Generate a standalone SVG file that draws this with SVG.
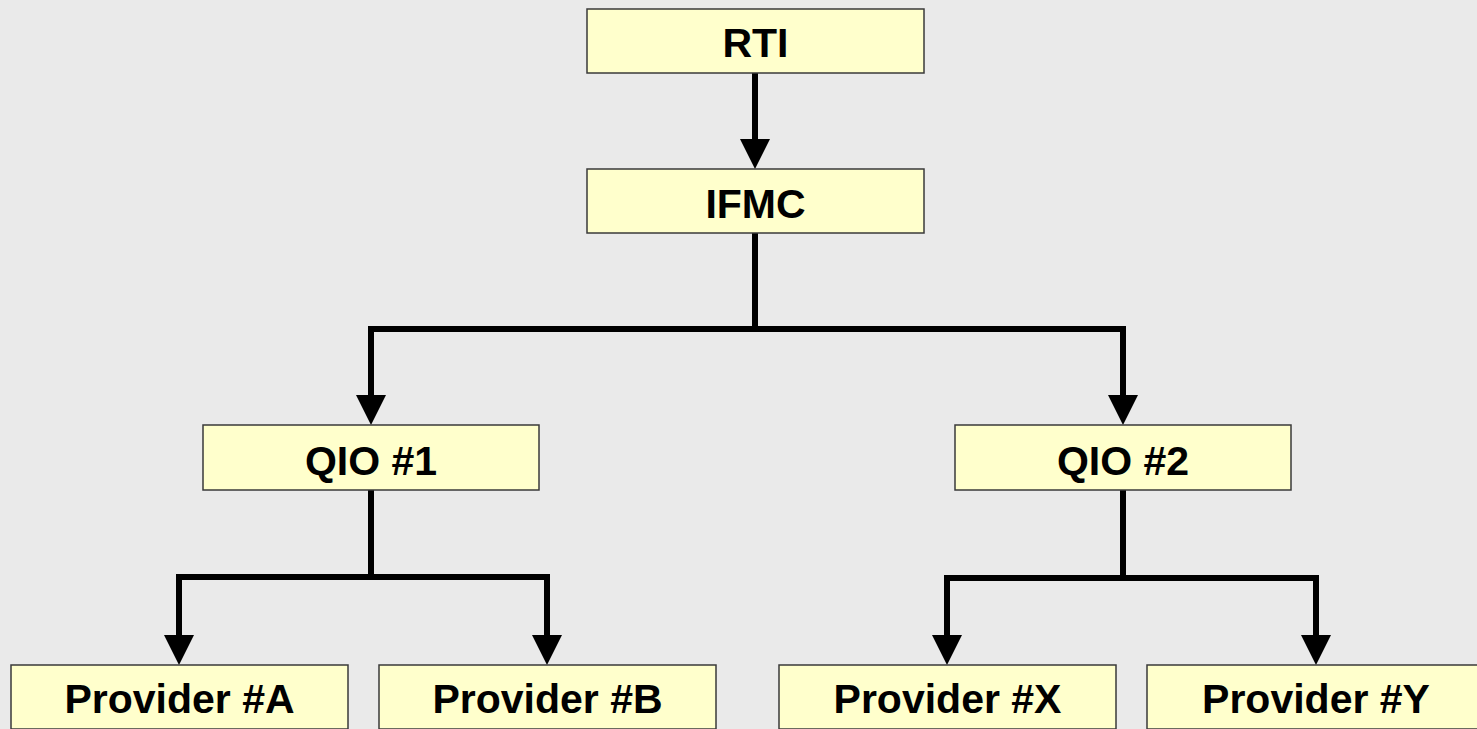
<svg xmlns="http://www.w3.org/2000/svg" width="1477" height="729" viewBox="0 0 1477 729">
  <style>
    .box { fill: #FFFFCC; stroke: #3a3a3a; stroke-width: 1.5; }
    .lbl { font-family: "Liberation Sans", Arial, sans-serif; font-weight: bold; font-size: 41px; fill: #000; text-anchor: middle; }
    .conn { fill: none; stroke: #000; stroke-width: 6; stroke-linejoin: miter; stroke-linecap: butt; }
  </style>
  <defs>
    <marker id="arrow" viewBox="0 0 30 30" refX="0" refY="15" markerWidth="30" markerHeight="30" markerUnits="userSpaceOnUse" orient="auto">
      <path d="M0,0 L30,15 L0,30 Z" fill="#000"/>
    </marker>
  </defs>
  <rect x="0" y="0" width="1477" height="729" fill="#EAEAEA"/>

  <g id="connectors">
    <path class="conn" d="M755,73 V139" marker-end="url(#arrow)"/>
    <path class="conn" d="M755,233 V329 H371 V395" marker-end="url(#arrow)"/>
    <path class="conn" d="M755,329 H1123 V395" marker-end="url(#arrow)"/>
    <path class="conn" d="M371,490 V577 H179 V635" marker-end="url(#arrow)"/>
    <path class="conn" d="M371,577 H547 V635" marker-end="url(#arrow)"/>
    <path class="conn" d="M1123,490 V578 H947 V635" marker-end="url(#arrow)"/>
    <path class="conn" d="M1123,578 H1316 V635" marker-end="url(#arrow)"/>
  </g>

  <g id="rti">
    <rect class="box" x="587" y="9" width="337" height="64"/>
    <text class="lbl" x="755.5" y="57">RTI</text>
  </g>
  <g id="ifmc">
    <rect class="box" x="587" y="169" width="337" height="64"/>
    <text class="lbl" x="755.5" y="218">IFMC</text>
  </g>
  <g id="qio1">
    <rect class="box" x="203" y="425" width="336" height="65"/>
    <text class="lbl" x="371" y="475">QIO #1</text>
  </g>
  <g id="qio2">
    <rect class="box" x="955" y="425" width="336" height="65"/>
    <text class="lbl" x="1123" y="475">QIO #2</text>
  </g>
  <g id="providerA">
    <rect class="box" x="11" y="665" width="337" height="64"/>
    <text class="lbl" x="179.5" y="713">Provider #A</text>
  </g>
  <g id="providerB">
    <rect class="box" x="379" y="665" width="337" height="64"/>
    <text class="lbl" x="547.5" y="713">Provider #B</text>
  </g>
  <g id="providerX">
    <rect class="box" x="779" y="665" width="337" height="64"/>
    <text class="lbl" x="947.5" y="713">Provider #X</text>
  </g>
  <g id="providerY">
    <rect class="box" x="1147" y="665" width="337" height="64"/>
    <text class="lbl" x="1316" y="713">Provider #Y</text>
  </g>
</svg>
